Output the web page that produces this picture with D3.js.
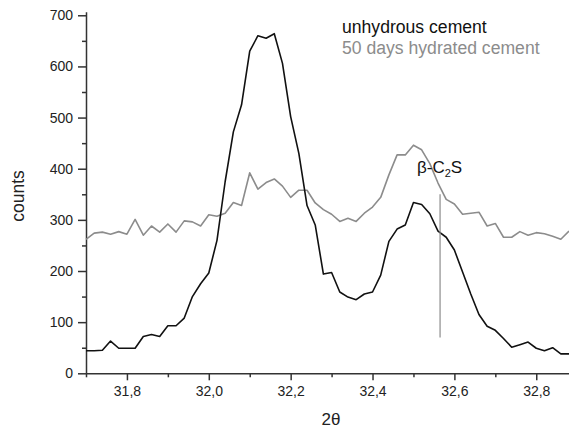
<!DOCTYPE html>
<html>
<head>
<meta charset="utf-8">
<script src="https://cdn.jsdelivr.net/npm/d3@7"></script>
<style>
  html, body { margin: 0; padding: 0; background: #fff; }
  svg { display: block; font-family: Arial, "Liberation Sans", sans-serif; }
</style>
</head>
<body>
<div id="chart"></div>
<script>
// XRD scan, two samples
const twoTheta = [31.70, 31.72, 31.74, 31.76, 31.78, 31.80, 31.82, 31.84, 31.86, 31.88,
                  31.90, 31.92, 31.94, 31.96, 31.98, 32.00, 32.02, 32.04, 32.06, 32.08,
                  32.10, 32.12, 32.14, 32.16, 32.18, 32.20, 32.22, 32.24, 32.26, 32.28,
                  32.30, 32.32, 32.34, 32.36, 32.38, 32.40, 32.42, 32.44, 32.46, 32.48,
                  32.50, 32.52, 32.54, 32.56, 32.58, 32.60, 32.62, 32.64, 32.66, 32.68,
                  32.70, 32.72, 32.74, 32.76, 32.78, 32.80, 32.82, 32.84, 32.86, 32.88];

const unhydrous = [44, 44, 45, 63, 49, 49, 49, 72, 76, 72,
                   93, 93, 108, 150, 175, 196, 260, 375, 472, 525,
                   630, 660, 655, 664, 606, 502, 430, 328, 290, 194,
                   197, 159, 149, 144, 155, 159, 192, 258, 282, 290,
                   334, 330, 312, 278, 266, 241, 198, 155, 115, 92,
                   84, 68, 51, 56, 61, 49, 44, 50, 38, 38];

const hydrated = [262, 274, 276, 272, 277, 272, 301, 270, 288, 276,
                  292, 276, 298, 296, 288, 310, 307, 313, 334, 328,
                  392, 360, 373, 380, 366, 344, 358, 358, 333, 320,
                  311, 297, 303, 297, 313, 325, 344, 388, 427, 427,
                  446, 437, 410, 372, 340, 331, 311, 313, 315, 288,
                  293, 266, 266, 277, 270, 275, 273, 268, 262, 278];

const seriesNames = ["unhydrous cement", "50 days hydrated cement"];
const xMajor = [31.8, 32.0, 32.2, 32.4, 32.6, 32.8];
const xMinor = [31.7, 31.9, 32.1, 32.3, 32.5, 32.7];
const yMajor = [0, 100, 200, 300, 400, 500, 600, 700];
const yMinor = [50, 150, 250, 350, 450, 550, 650];
const marker = { theta: 32.565, from: 70, to: 350 };

const w = 569, h = 429;
const axisColor = "#333";
const black = "#111";
const grey = "#8c8c8c";

const svg = d3.select("#chart").append("svg")
  .attr("width", w)
  .attr("height", h);

const x = d3.scaleLinear().domain([31.70, 32.88]).range([86, 569]);
const y = d3.scaleLinear().domain([0, 707]).range([373.3, 11.7]);

// axes
const fmt = d => d3.format(".1f")(d).replace(".", ",");

svg.append("g")
  .attr("transform", "translate(0," + y(0) + ")")
  .call(d3.axisBottom(x).tickValues(xMajor).tickFormat(fmt)
    .tickSize(7).tickSizeOuter(0).tickPadding(6));

svg.append("g")
  .attr("transform", "translate(0," + y(0) + ")")
  .call(d3.axisBottom(x).tickValues(xMinor).tickFormat("")
    .tickSize(4).tickSizeOuter(0))
  .select(".domain").remove();

svg.append("g")
  .attr("transform", "translate(" + x(31.70) + ",0)")
  .call(d3.axisLeft(y).tickValues(yMajor)
    .tickSize(8).tickSizeOuter(0).tickPadding(5));

svg.append("g")
  .attr("transform", "translate(" + x(31.70) + ",0)")
  .call(d3.axisLeft(y).tickValues(yMinor).tickFormat("")
    .tickSize(4).tickSizeOuter(0))
  .select(".domain").remove();

svg.selectAll(".domain, .tick line")
  .attr("stroke", axisColor)
  .attr("stroke-width", 1.5);

svg.selectAll(".tick text")
  .attr("fill", "#222")
  .style("font-size", "14px");

// axis titles
svg.append("text")
  .attr("x", 331)
  .attr("y", 425)
  .attr("text-anchor", "middle")
  .attr("fill", "#222")
  .style("font-size", "17px")
  .text("2θ");

svg.append("text")
  .attr("transform", "translate(23.5,196) rotate(-90)")
  .attr("text-anchor", "middle")
  .attr("fill", "#222")
  .style("font-size", "17.5px")
  .text("counts");

// data lines
const line = vals => d3.line()
  .x((d, i) => x(twoTheta[i]))
  .y(d => y(d))(vals);

svg.append("path")
  .attr("d", line(hydrated))
  .attr("fill", "none")
  .attr("stroke", grey)
  .attr("stroke-width", 1.6)
  .attr("stroke-linejoin", "round");

svg.append("path")
  .attr("d", line(unhydrous))
  .attr("fill", "none")
  .attr("stroke", black)
  .attr("stroke-width", 1.6)
  .attr("stroke-linejoin", "round");

// beta-C2S marker
svg.append("line")
  .attr("x1", x(marker.theta)).attr("x2", x(marker.theta))
  .attr("y1", y(marker.from)).attr("y2", y(marker.to))
  .attr("stroke", grey)
  .attr("stroke-width", 1.2);

const lab = svg.append("text")
  .attr("x", 417)
  .attr("y", 173)
  .attr("fill", "#111")
  .style("font-size", "17px");
lab.append("tspan").text("β-C");
lab.append("tspan").attr("dy", 4).style("font-size", "11px").text("2");
lab.append("tspan").attr("dy", -4).text("S");

// legend
svg.selectAll(".legend")
  .data(seriesNames)
  .enter()
  .append("text")
  .attr("class", "legend")
  .attr("x", 342)
  .attr("y", (d, i) => 33 + i * 21)
  .attr("fill", (d, i) => i === 0 ? black : grey)
  .style("font-size", "17.6px")
  .text(d => d);
</script>
</body>
</html>
